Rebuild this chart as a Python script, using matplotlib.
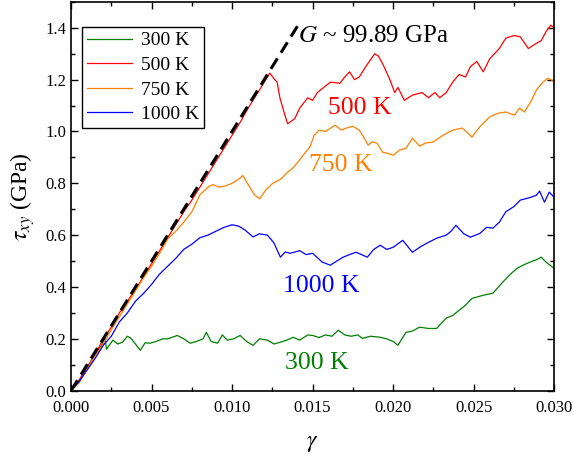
import matplotlib
matplotlib.use('Agg')
import matplotlib.pyplot as plt
from matplotlib.ticker import MultipleLocator

# Curvas tensao-deformacao (gamma, tau_xy em GPa)
gamma_300 = [0.0, 0.0005, 0.001, 0.0015, 0.0019, 0.0021, 0.0022, 0.0026, 0.0029, 0.0032,
             0.0035, 0.0037, 0.0040, 0.0043, 0.0046, 0.0049, 0.0053, 0.0057, 0.0060, 0.0066,
             0.0070, 0.0074, 0.0078, 0.0082, 0.0084, 0.0087, 0.0091, 0.0094, 0.0097, 0.0101,
             0.0105, 0.0109, 0.0113, 0.0117, 0.0122, 0.0126, 0.0130, 0.0134, 0.0138, 0.0142,
             0.0147, 0.0150, 0.0154, 0.0158, 0.0162, 0.0166, 0.0170, 0.0174, 0.0178, 0.0181,
             0.0186, 0.0192, 0.0196, 0.0200, 0.0203, 0.0206, 0.0208, 0.0212, 0.02165, 0.0222,
             0.0227, 0.0233, 0.0237, 0.0241, 0.0245, 0.0249, 0.0256, 0.0262, 0.0268, 0.0273,
             0.0277, 0.0281, 0.0285, 0.0289, 0.0292, 0.0295, 0.0300]
tau_300 = [0.0, 0.04, 0.09, 0.14, 0.175, 0.206, 0.16, 0.195, 0.18, 0.187,
           0.21, 0.203, 0.18, 0.156, 0.185, 0.183, 0.19, 0.20, 0.20, 0.213,
           0.20, 0.183, 0.19, 0.20, 0.225, 0.19, 0.183, 0.215, 0.195, 0.20,
           0.213, 0.19, 0.175, 0.20, 0.195, 0.18, 0.187, 0.195, 0.206, 0.195,
           0.215, 0.213, 0.205, 0.215, 0.21, 0.233, 0.215, 0.21, 0.215, 0.202,
           0.21, 0.206, 0.20, 0.19, 0.175, 0.205, 0.225, 0.23, 0.245, 0.24,
           0.24, 0.28, 0.29, 0.31, 0.33, 0.356, 0.368, 0.376, 0.418, 0.45,
           0.472, 0.485, 0.496, 0.505, 0.515, 0.496, 0.472]

gamma_500 = [0.0, 0.0005, 0.001, 0.0015, 0.002, 0.0025, 0.003, 0.0035, 0.004, 0.0045,
             0.005, 0.0055, 0.006, 0.0065, 0.007, 0.0075, 0.008, 0.0085, 0.009, 0.0095,
             0.010, 0.0105, 0.011, 0.0115, 0.012, 0.01234, 0.01265, 0.0128, 0.01297, 0.01328,
             0.01345, 0.0136, 0.0139, 0.0142, 0.0147, 0.0150, 0.0153, 0.0157, 0.0161, 0.0167,
             0.0170, 0.0173, 0.0176, 0.0179, 0.0183, 0.01886, 0.0191, 0.0194, 0.0198, 0.0201,
             0.0203, 0.0207, 0.0212, 0.0218, 0.0222, 0.0226, 0.0229, 0.0233, 0.0237, 0.0241,
             0.0245, 0.0248, 0.0252, 0.0256, 0.0260, 0.0266, 0.0270, 0.0275, 0.0279, 0.0284,
             0.0289, 0.0292, 0.0295, 0.0298, 0.0300]
tau_500 = [0.0, 0.04, 0.09, 0.14, 0.20, 0.245, 0.30, 0.345, 0.39, 0.44,
           0.49, 0.54, 0.59, 0.64, 0.69, 0.735, 0.785, 0.835, 0.885, 0.935,
           0.985, 1.035, 1.09, 1.14, 1.19, 1.225, 1.20, 1.19, 1.13, 1.063,
           1.03, 1.036, 1.05, 1.09, 1.13, 1.12, 1.15, 1.17, 1.19, 1.186,
           1.21, 1.23, 1.20, 1.21, 1.25, 1.30, 1.29, 1.255, 1.20, 1.15,
           1.17, 1.12, 1.14, 1.15, 1.13, 1.15, 1.13, 1.15, 1.19, 1.22,
           1.21, 1.25, 1.27, 1.23, 1.28, 1.32, 1.36, 1.37, 1.365, 1.32,
           1.34, 1.35, 1.385, 1.41, 1.40]

gamma_750 = [0.0, 0.0005, 0.001, 0.0015, 0.002, 0.0025, 0.003, 0.0035, 0.004, 0.0045,
             0.005, 0.0055, 0.006, 0.0065, 0.007, 0.0075, 0.008, 0.0085, 0.0088, 0.0092,
             0.0096, 0.0100, 0.0104, 0.01067, 0.0110, 0.0114, 0.01172, 0.0121, 0.01253, 0.0130,
             0.0134, 0.0138, 0.0142, 0.0145, 0.01483, 0.0151, 0.0154, 0.0158, 0.0164, 0.0168,
             0.0171, 0.0175, 0.0179, 0.0182, 0.01845, 0.0187, 0.0190, 0.01935, 0.0197, 0.0200,
             0.0204, 0.0208, 0.0212, 0.02165, 0.0220, 0.02248, 0.0231, 0.0237, 0.0243, 0.0249,
             0.02537, 0.0260, 0.0265, 0.0270, 0.02754, 0.02785, 0.02816, 0.0286, 0.0289, 0.0293,
             0.0296, 0.0298, 0.0300]
tau_750 = [0.0, 0.03, 0.085, 0.135, 0.18, 0.235, 0.285, 0.335, 0.385, 0.435,
           0.48, 0.53, 0.585, 0.615, 0.65, 0.69, 0.755, 0.785, 0.795, 0.785,
           0.79, 0.80, 0.815, 0.83, 0.795, 0.755, 0.74, 0.775, 0.80, 0.815,
           0.84, 0.86, 0.89, 0.915, 0.94, 0.985, 1.005, 1.00, 1.024, 1.005,
           1.013, 1.02, 1.005, 0.975, 0.947, 0.96, 0.955, 0.92, 0.915, 0.908,
           0.928, 0.935, 0.974, 0.943, 0.955, 0.959, 0.985, 1.005, 1.013, 0.978,
           1.017, 1.056, 1.07, 1.075, 1.063, 1.09, 1.075, 1.12, 1.16, 1.19,
           1.205, 1.20, 1.19]

gamma_1000 = [0.0, 0.0005, 0.001, 0.0015, 0.002, 0.0025, 0.003, 0.0035, 0.004, 0.0045,
              0.005, 0.0055, 0.006, 0.0065, 0.007, 0.0075, 0.008, 0.0085, 0.009, 0.0095,
              0.010, 0.0104, 0.0108, 0.0113, 0.0117, 0.0122, 0.0126, 0.0130, 0.0133, 0.0136,
              0.0142, 0.0146, 0.0150, 0.0156, 0.0161, 0.0165, 0.0169, 0.0173, 0.0177, 0.0184,
              0.0188, 0.0192, 0.0196, 0.0200, 0.0206, 0.0212, 0.0217, 0.0221, 0.0227, 0.0233,
              0.0236, 0.0239, 0.0244, 0.0248, 0.0254, 0.0258, 0.0262, 0.0266, 0.0270, 0.0275,
              0.0279, 0.0285, 0.0289, 0.0291, 0.0294, 0.0297, 0.0300]
tau_1000 = [0.0, 0.035, 0.08, 0.125, 0.175, 0.21, 0.265, 0.30, 0.345, 0.375,
            0.41, 0.45, 0.48, 0.51, 0.545, 0.565, 0.59, 0.60, 0.615, 0.63,
            0.64, 0.635, 0.62, 0.593, 0.605, 0.60, 0.57, 0.515, 0.535, 0.53,
            0.54, 0.525, 0.53, 0.496, 0.484, 0.50, 0.515, 0.525, 0.534, 0.515,
            0.545, 0.561, 0.545, 0.553, 0.58, 0.534, 0.555, 0.569, 0.588, 0.60,
            0.615, 0.638, 0.605, 0.592, 0.607, 0.63, 0.627, 0.65, 0.69, 0.71,
            0.735, 0.745, 0.754, 0.77, 0.727, 0.766, 0.746]

# Ajuste linear elastico (G ~ 99.89 GPa)
gamma_fit = [0.0, 0.0142]
tau_fit = [0.0, 1.42]

labels = ['300 K', '500 K', '750 K', '1000 K']
colors = ['#008000', '#ff0000', '#ff8000', '#0000ff']

plt.rcParams['font.family'] = ['Liberation Serif', 'DejaVu Serif']
plt.rcParams['mathtext.fontset'] = 'stix'

fig = plt.figure(figsize=(5.73, 4.58), dpi=100)
ax = fig.add_axes([0.124, 0.147, 0.843, 0.849])

series = [(gamma_300, tau_300), (gamma_500, tau_500),
          (gamma_750, tau_750), (gamma_1000, tau_1000)]
for (g, t), lab, c in zip(series, labels, colors):
    ax.plot(g, t, color=c, lw=0.9, label=lab)

ax.plot(gamma_fit, tau_fit, color='black', lw=2.2, ls=(0, (4, 2.2)))

ax.text(0.01408, 1.368, '$G$ ~ 99.89 GPa', fontsize=18, va='center', ha='left')
ax.text(0.01793, 1.09, '500 K', color=colors[1], fontsize=18.5, ha='center', va='center')
ax.text(0.01675, 0.87, '750 K', color=colors[2], fontsize=18.5, ha='center', va='center')
ax.text(0.01557, 0.403, '1000 K', color=colors[3], fontsize=18.5, ha='center', va='center')
ax.text(0.01526, 0.106, '300 K', color=colors[0], fontsize=18.5, ha='center', va='center')

ax.set_xlim(0, 0.030)
ax.set_ylim(0, 1.5)
ax.xaxis.set_major_locator(MultipleLocator(0.005))
ax.xaxis.set_minor_locator(MultipleLocator(0.0025))
ax.yaxis.set_major_locator(MultipleLocator(0.2))
ax.yaxis.set_minor_locator(MultipleLocator(0.1))
ax.xaxis.set_major_formatter(plt.FormatStrFormatter('%.3f'))
ax.yaxis.set_major_formatter(plt.FormatStrFormatter('%.1f'))
ax.tick_params(which='both', direction='in', top=True, right=True, labelsize=12)
ax.tick_params(axis='x', pad=7)
ax.tick_params(which='major', length=5, width=1)
ax.tick_params(which='minor', length=3, width=1)
for s in ax.spines.values():
    s.set_linewidth(1.2)

ax.set_xlabel(r'$\gamma$', fontsize=17, labelpad=12)
ax.set_ylabel(r'$\tau_{xy}$ (GPa)', fontsize=17, labelpad=6)

leg = ax.legend(loc='upper left', bbox_to_anchor=(0.0228, 0.9356), fontsize=14,
                frameon=True, fancybox=False, edgecolor='black', framealpha=1,
                handlelength=2.3, borderaxespad=0, labelspacing=0.36,
                handletextpad=0.5, borderpad=0.25)
leg.get_frame().set_linewidth(1.0)

fig.savefig('out.png', dpi=100)
